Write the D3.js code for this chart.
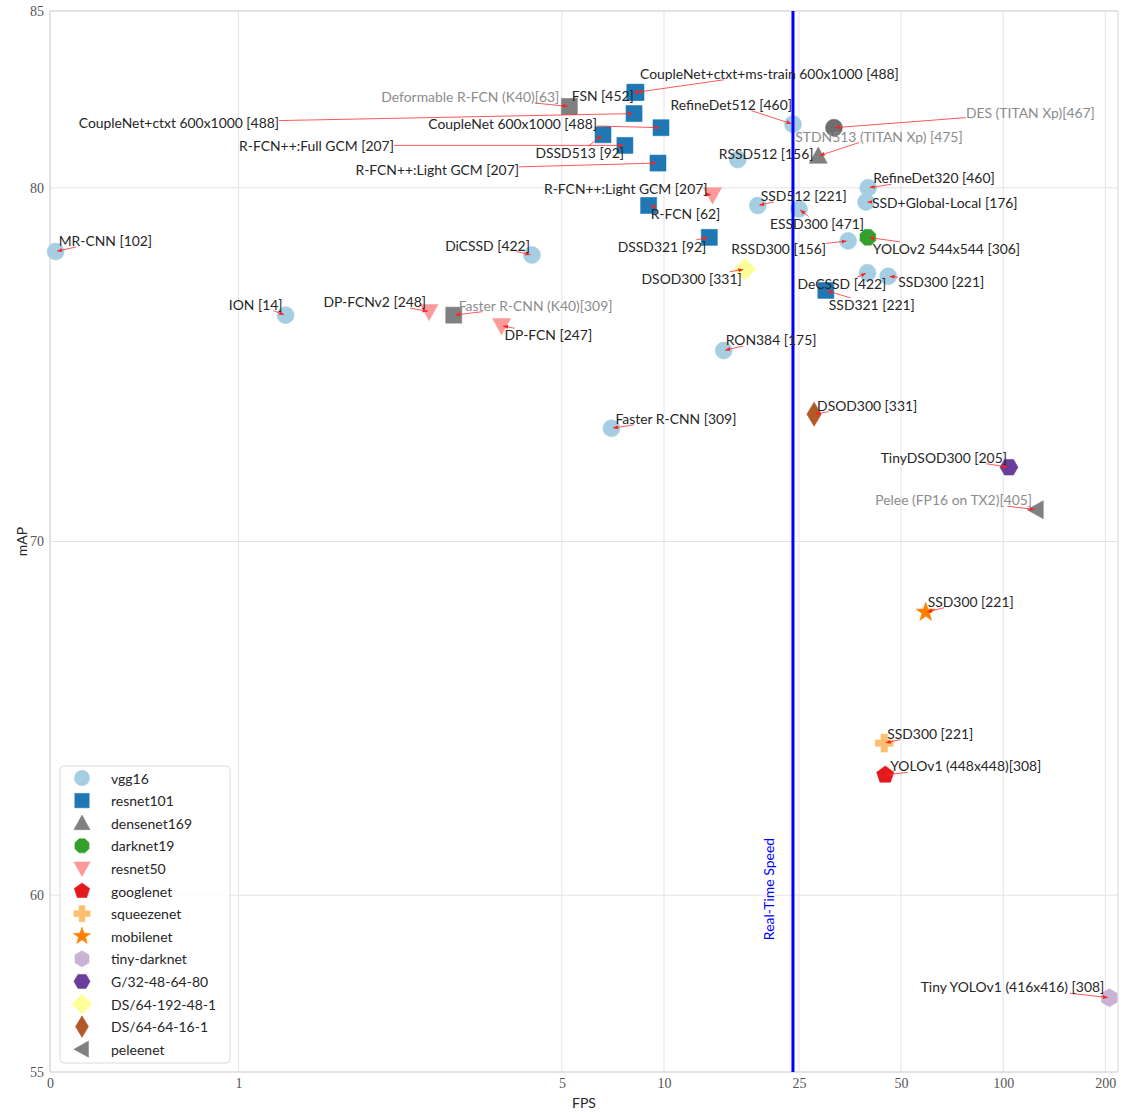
<!DOCTYPE html>
<html>
<head>
<meta charset="utf-8">
<script src="https://cdn.jsdelivr.net/npm/d3@7"></script>
<style>
  body { margin: 0; background: #fff; }
  text { font-family: Lato, "Open Sans", sans-serif; }
</style>
</head>
<body>
<svg id="chart" width="1125" height="1114"></svg>
<script>
// ---- data ----
const names = [
  'MR-CNN [102]', 'ION [14]', 'DiCSSD [422]', 'Faster R-CNN [309]', 'RON384 [175]',
  'RSSD512 [156]', 'SSD512 [221]', 'RefineDet512 [460]', 'ESSD300 [471]', 'RSSD300 [156]',
  'RefineDet320 [460]', 'SSD+Global-Local [176]', 'DeCSSD [422]', 'SSD300 [221]',
  'CoupleNet+ctxt+ms-train 600x1000 [488]', 'FSN [452]', 'CoupleNet+ctxt 600x1000 [488]',
  'CoupleNet 600x1000 [488]', 'DSSD513 [92]', 'R-FCN++:Full GCM [207]', 'R-FCN++:Light GCM [207]',
  'R-FCN [62]', 'DSSD321 [92]', 'SSD321 [221]',
  'STDN513 (TITAN Xp) [475]', 'YOLOv2 544x544 [306]',
  'R-FCN++:Light GCM [207]', 'DP-FCNv2 [248]', 'DP-FCN [247]',
  'YOLOv1 (448x448)[308]', 'SSD300 [221]', 'SSD300 [221]', 'Tiny YOLOv1 (416x416) [308]',
  'TinyDSOD300 [205]', 'DSOD300 [331]', 'DSOD300 [331]', 'Pelee (FP16 on TX2)[405]',
  'Deformable R-FCN (K40)[63]', 'Faster R-CNN (K40)[309]', 'DES (TITAN Xp)[467]'
];
const fps = [
  0.03, 1.25, 4.08, 7.0, 15.0,
  16.5, 18.9, 24.0, 25.0, 34.9,
  40.0, 39.4, 39.8, 45.8,
  8.27, 8.2, 8.16,
  9.8, 6.61, 7.67, 9.6,
  9.01, 13.6, 30.0,
  28.5, 39.9,
  13.9, 2.03, 3.32,
  44.9, 44.6, 59.1, 205.5,
  104.0, 17.3, 27.7, 125.0,
  5.26, 2.4, 31.7
];
const mAP = [
  78.2, 76.4, 78.1, 73.2, 75.4,
  80.8, 79.5, 81.8, 79.4, 78.5,
  80.0, 79.6, 77.6, 77.5,
  82.7, 82.7, 82.1,
  81.7, 81.5, 81.2, 80.7,
  79.5, 78.6, 77.1,
  80.9, 78.6,
  79.8, 76.5, 76.1,
  63.4, 64.3, 68.0, 57.1,
  72.1, 77.7, 73.6, 70.9,
  82.3, 76.4, 81.7
];
const backbone = [
  'vgg16', 'vgg16', 'vgg16', 'vgg16', 'vgg16',
  'vgg16', 'vgg16', 'vgg16', 'vgg16', 'vgg16',
  'vgg16', 'vgg16', 'vgg16', 'vgg16',
  'resnet101', 'resnet101', 'resnet101',
  'resnet101', 'resnet101', 'resnet101', 'resnet101',
  'resnet101', 'resnet101', 'resnet101',
  'densenet169', 'darknet19',
  'resnet50', 'resnet50', 'resnet50',
  'googlenet', 'squeezenet', 'mobilenet', 'tiny-darknet',
  'G/32-48-64-80', 'DS/64-192-48-1', 'DS/64-64-16-1', 'peleenet',
  'resnet101', 'resnet101', 'vgg16'
];
// timed on another GPU -> drawn in gray
const otherDevice = [
  'STDN513 (TITAN Xp) [475]', 'Pelee (FP16 on TX2)[405]', 'Deformable R-FCN (K40)[63]',
  'Faster R-CNN (K40)[309]', 'DES (TITAN Xp)[467]'
];
const backbones = ['vgg16', 'resnet101', 'densenet169', 'darknet19', 'resnet50', 'googlenet',
  'squeezenet', 'mobilenet', 'tiny-darknet', 'G/32-48-64-80', 'DS/64-192-48-1', 'DS/64-64-16-1', 'peleenet'];
const xTicks = [0, 1, 5, 10, 25, 50, 100, 200];
const yTicks = [55, 60, 70, 80, 85];
const realTimeFps = 24;

// ---- styling / layout ----
const colors = ['#a6cee3', '#1f78b4', '#808080', '#33a02c', '#fb9a99', '#e31a1c',
  '#fdbf6f', '#ff7f00', '#cab2d6', '#6a3d9a', '#ffff99', '#b15928', '#808080'];
const shapes = ['o', 's', '^', '8', 'v', 'p', 'P', '*', 'h', 'H', 'D', 'd', '<'];
// label offsets from the marker in px: [dx, dy, anchor]
const labelPos = [
  [3, -11, 's'], [-3, -11, 'e'], [-2, -10, 'e'], [4, -10, 's'], [2, -11, 's'],
  [-19, -6, 's'], [3, -10, 's'], [-1, -20, 'e'], [-29, 14, 's'], [-22, 8, 'e'],
  [5, -10, 's'], [6, 1, 's'], [-70, 11, 's'], [10, 5, 's'],
  [4, -19, 's'], [-1, 3, 'e'], [-355, 9, 'e'],
  [-64, -4, 'e'], [21, 18, 'e'], [-231, 0, 'e'], [-139, 6, 'e'],
  [2, 8, 's'], [-3, 9, 'e'], [3, 14, 's'],
  [-23, -20, 's'], [5, 11, 's'],
  [-5, -6, 'e'], [-3, -10, 'e'], [3, 9, 's'],
  [5, -9, 's'], [3, -10, 's'], [2, -11, 's'], [-5, -11, 'e'],
  [-2, -10, 'e'], [-3, 9, 'e'], [3, -9, 's'], [-4, -10, 'e'],
  [-10, -10, 'e'], [5, -10, 's'], [132, -15, 's']
];

const pL = 50, pR = 1118, pT = 11, pB = 1072;

// symlog transform (linthresh 2, linscale 1, base 10)
const linthresh = 2, linscaleAdj = 1 / (1 - 1 / 10);
function symlog(v) {
  return v <= linthresh ? v / linthresh * linscaleAdj : linscaleAdj + Math.log10(v / linthresh);
}
const xLin = d3.scaleLinear().domain([symlog(0), symlog(218)]).range([pL, pR]);
const x = v => xLin(symlog(v));
const y = d3.scaleLinear().domain([55, 85]).range([pB, pT]);

const svg = d3.select('#chart');

// grid
svg.append('g').selectAll('line').data(xTicks).join('line')
  .attr('x1', d => x(d)).attr('x2', d => x(d)).attr('y1', pT).attr('y2', pB)
  .attr('stroke', '#e3e3e3').attr('stroke-width', 1);
svg.append('g').selectAll('line').data(yTicks).join('line')
  .attr('x1', pL).attr('x2', pR).attr('y1', d => y(d)).attr('y2', d => y(d))
  .attr('stroke', '#e3e3e3').attr('stroke-width', 1);
svg.append('rect').attr('x', pL).attr('y', pT).attr('width', pR - pL).attr('height', pB - pT)
  .attr('fill', 'none').attr('stroke', '#d6d6d6').attr('stroke-width', 1);

// axes (labels only, like seaborn whitegrid)
const xAxis = svg.append('g').attr('transform', `translate(0,${pB})`)
  .call(d3.axisBottom(xLin).tickValues(xTicks.map(symlog)).tickFormat((d, i) => xTicks[i]).tickSize(0).tickPadding(6));
const yAxis = svg.append('g').attr('transform', `translate(${pL},0)`)
  .call(d3.axisLeft(y).tickValues(yTicks).tickFormat(d3.format('d')).tickSize(0).tickPadding(6));
[xAxis, yAxis].forEach(g => {
  g.select('.domain').remove();
  g.selectAll('text').style('font-family', '"Liberation Serif", serif').style('font-size', '14px').attr('fill', '#555');
});

svg.append('text').attr('x', (pL + pR) / 2).attr('y', 1108).attr('text-anchor', 'middle')
  .style('font-size', '14px').attr('fill', '#262626').text('FPS');
svg.append('text').attr('transform', `translate(27,${(pT + pB) / 2}) rotate(-90)`).attr('text-anchor', 'middle')
  .style('font-size', '14px').attr('fill', '#262626').text('mAP');

// marker shapes
function poly(n, r, rot) {
  const p = [];
  for (let k = 0; k < n; k++) {
    const a = (rot + k * 360 / n) * Math.PI / 180;
    p.push([r * Math.cos(a), r * Math.sin(a)]);
  }
  return p;
}
function shapePath(kind) {
  let pts;
  switch (kind) {
    case 'o': { const r = 8.5; return `M${r},0A${r},${r} 0 1,1 ${-r},0A${r},${r} 0 1,1 ${r},0Z`; }
    case 's': { const h = 8; pts = [[-h, -h], [h, -h], [h, h], [-h, h]]; break; }
    case '^': { const r = 9; pts = [[0, -r], [r, r * 0.8], [-r, r * 0.8]]; break; }
    case 'v': { const r = 9; pts = [[0, r], [r, -r * 0.8], [-r, -r * 0.8]]; break; }
    case '<': { const r = 9; pts = [[-r, 0], [r * 0.8, -r], [r * 0.8, r]]; break; }
    case 'p': pts = poly(5, 9, -90); break;
    case 'h': pts = poly(6, 9, -90); break;
    case 'H': pts = poly(6, 9, 0); break;
    case '8': pts = poly(8, 8.5, 22.5); break;
    case 'D': { const r = 11; pts = [[0, -r], [r, 0], [0, r], [-r, 0]]; break; }
    case 'd': { const r = 12; pts = [[0, -r], [r * 0.6, 0], [0, r], [-r * 0.6, 0]]; break; }
    case 'P': {
      const a = 3.2, r = 9;
      pts = [[-a, -r], [a, -r], [a, -a], [r, -a], [r, a], [a, a], [a, r], [-a, r], [-a, a], [-r, a], [-r, -a], [-a, -a]];
      break;
    }
    case '*': {
      pts = [];
      for (let k = 0; k < 10; k++) {
        const rr = k % 2 ? 4 : 10, a = (-90 + k * 36) * Math.PI / 180;
        pts.push([rr * Math.cos(a), rr * Math.sin(a)]);
      }
      break;
    }
  }
  return 'M' + pts.map(p => p.join(',')).join('L') + 'Z';
}

const points = names.map((n, i) => {
  const b = backbones.indexOf(backbone[i]);
  const gray = otherDevice.includes(n);
  return {
    name: n, fps: fps[i], map: mAP[i], shape: shapes[b],
    color: gray ? (shapes[b] === 'o' ? '#6e6e6e' : '#808080') : colors[b],
    labelColor: gray ? '#8c8c8c' : '#262626', lp: labelPos[i]
  };
});

// markers
svg.append('g').selectAll('path').data(points).join('path')
  .attr('d', d => shapePath(d.shape))
  .attr('transform', d => `translate(${x(d.fps)},${y(d.map)})`)
  .attr('fill', d => d.color).attr('stroke', d => d.color).attr('stroke-width', 0.6);

// real-time line
svg.append('line').attr('x1', x(realTimeFps)).attr('x2', x(realTimeFps)).attr('y1', pT).attr('y2', pB)
  .attr('stroke', '#0000ff').attr('stroke-width', 3);
svg.append('text').attr('transform', `translate(${x(realTimeFps) - 24},889) rotate(-90)`)
  .attr('text-anchor', 'middle').attr('dominant-baseline', 'central')
  .style('font-size', '14px').attr('fill', '#0000ff').text('Real-Time Speed');

// annotations
svg.append('defs').append('marker').attr('id', 'head').attr('viewBox', '0 0 10 10')
  .attr('refX', 10).attr('refY', 5).attr('markerWidth', 5).attr('markerHeight', 5)
  .attr('orient', 'auto').append('path').attr('d', 'M0,1L10,5L0,9Z').attr('fill', '#ff2020');

const arrows = svg.append('g');
const labels = svg.append('g');
points.forEach(d => {
  const px = x(d.fps), py = y(d.map);
  const t = labels.append('text')
    .attr('x', px + d.lp[0]).attr('y', py + d.lp[1])
    .attr('text-anchor', d.lp[2] === 'e' ? 'end' : 'start')
    .attr('dominant-baseline', 'central')
    .style('font-size', '13.9px').attr('fill', d.labelColor).text(d.name);
  const bb = t.node().getBBox();
  const cx = bb.x + bb.width / 2, cy = bb.y + bb.height / 2;
  const dx = px - cx, dy = py - cy;
  // leave text box along the line towards the marker
  const tx = dx !== 0 ? (bb.width / 2) / Math.abs(dx) : Infinity;
  const ty = dy !== 0 ? (bb.height / 2 - 2) / Math.abs(dy) : Infinity;
  const s = Math.min(tx, ty);
  if (s >= 1) return;
  const len = Math.hypot(dx, dy);
  const sx = cx + dx * s, sy = cy + dy * s;
  const ex = px - dx / len * 1.5, ey = py - dy / len * 1.5;
  arrows.append('line').attr('x1', sx).attr('y1', sy).attr('x2', ex).attr('y2', ey)
    .attr('stroke', '#ff2020').attr('stroke-opacity', 0.75).attr('stroke-width', 1)
    .attr('marker-end', 'url(#head)');
});

// legend
const leg = svg.append('g').attr('transform', 'translate(60,766)');
leg.append('rect').attr('width', 170).attr('height', 297).attr('rx', 4)
  .attr('fill', '#fff').attr('fill-opacity', 0.85).attr('stroke', '#dcdcdc');
const items = leg.selectAll('g').data(backbones).join('g')
  .attr('transform', (d, i) => `translate(0,${12 + i * 22.6})`);
items.append('path').attr('d', (d, i) => shapePath(shapes[i]))
  .attr('transform', 'translate(22,0) scale(0.9)')
  .attr('fill', (d, i) => colors[i]).attr('stroke', (d, i) => colors[i]).attr('stroke-width', 0.6);
items.append('text').attr('x', 51).attr('dominant-baseline', 'central')
  .style('font-size', '14px').attr('fill', '#262626').text(d => d);
</script>
</body>
</html>
